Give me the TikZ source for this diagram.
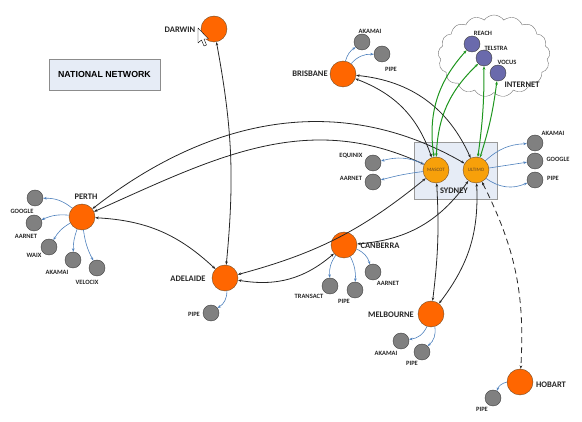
\documentclass[tikz,border=0pt]{standalone}
\usepackage{fontspec}
\setmainfont{Carlito}
\newfontfamily\titlefont{Liberation Sans}
\usetikzlibrary{arrows.meta, shapes.symbols}

\definecolor{hubor}{RGB}{255,102,0}
\definecolor{sydor}{RGB}{247,160,10}
\definecolor{peergrey}{RGB}{128,128,128}
\definecolor{inet}{RGB}{106,106,172}
\definecolor{feedblue}{RGB}{79,129,189}
\definecolor{upgreen}{RGB}{30,150,30}
\definecolor{boxfill}{RGB}{230,236,246}

\begin{document}
\begin{tikzpicture}[x=1pt, y=-1pt,
  hub/.style={circle, draw=brown!60!black, fill=hubor, minimum size=26pt, inner sep=0pt},
  pop/.style={circle, draw=brown!60!black, fill=sydor, minimum size=26pt, inner sep=0pt,
    font=\fontsize{5}{5}\selectfont, text=brown!55!black},
  peer/.style={circle, draw=black!75, fill=peergrey, minimum size=16pt, inner sep=0pt},
  transit/.style={circle, draw=black!75, fill=inet, minimum size=16pt, inner sep=0pt},
  cityname/.style={font=\fontsize{8.5}{9}\selectfont\bfseries, text=black!85},
  peername/.style={font=\fontsize{6.5}{7}\selectfont\bfseries, text=black!85},
  trunk/.style={{Stealth[length=3.5pt]}-{Stealth[length=3.5pt]}, black!85, line width=0.8pt},
  uplink/.style={{Stealth[length=3.5pt]}-{Stealth[length=3.5pt]}, upgreen, line width=1pt},
  feed/.style={-{Stealth[length=3.5pt]}, feedblue, line width=0.6pt}
]
  \useasboundingbox (0,0) rectangle (582,422);

  % boxes and cloud
  \node[draw=black!45, fill=boxfill, minimum width=111pt, minimum height=31pt,
    font=\titlefont\fontsize{8.8}{9}\selectfont\bfseries] (title) at (104.5,74.5) {NATIONAL NETWORK};
  \node[draw=black!40, fill=boxfill, minimum width=83pt, minimum height=57pt] (sydbox) at (455.5,170.5) {};
  \node[cloud, cloud puffs=17, cloud puff arc=110, aspect=1.4, draw=black!55, fill=white,
    minimum width=112pt, minimum height=82pt] (cloud) at (494,56) {};
  \node[cityname] (internet) at (522,85) {INTERNET};
  \node[cityname] (sydney) at (454,191) {SYDNEY};

  % hubs
  \node[hub] (darwin) at (214,29) {};
  \node[hub] (brisbane) at (343,74) {};
  \node[hub] (perth) at (82,217) {};
  \node[hub] (adelaide) at (225,278) {};
  \node[hub] (canberra) at (344,245) {};
  \node[hub] (melbourne) at (431,314) {};
  \node[hub] (hobart) at (520,382) {};
  \node[pop] (mascot) at (436,170) {MASCOT};
  \node[pop] (ultimo) at (476,170) {ULTIMO};

  \node[cityname] (darwinname) at (180,30) {DARWIN};
  \node[cityname] (brisbanename) at (310,74) {BRISBANE};
  \node[cityname] (perthname) at (86,197) {PERTH};
  \node[cityname] (adelaidename) at (188,279) {ADELAIDE};
  \node[cityname] (canberraname) at (380,246) {CANBERRA};
  \node[cityname] (melbournename) at (391,315) {MELBOURNE};
  \node[cityname] (hobartname) at (551,385) {HOBART};

  % transit
  \node[transit] (reach) at (472,44) {};
  \node[transit] (telstra) at (484,58) {};
  \node[transit] (vocus) at (498,73) {};
  \node[peername] at (483,33) {REACH};
  \node[peername] at (496,48) {TELSTRA};
  \node[peername] at (507,62) {VOCUS};

  % peers
  \node[peer] (bneakamai) at (362,42) {};
  \node[peer] (bnepipe) at (382,54) {};
  \node[peer] (sydequinix) at (373,163) {};
  \node[peer] (sydaarnet) at (373,182) {};
  \node[peer] (sydakamai) at (535,143) {};
  \node[peer] (sydgoogle) at (535,161) {};
  \node[peer] (sydpipe) at (535,180) {};
  \node[peer] (pergoogle) at (35,198) {};
  \node[peer] (peraarnet) at (34,223) {};
  \node[peer] (perwaix) at (49,247) {};
  \node[peer] (perakamai) at (73,260) {};
  \node[peer] (pervelocix) at (97,268) {};
  \node[peer] (adlpipe) at (211,313) {};
  \node[peer] (cbrtransact) at (330,286) {};
  \node[peer] (cbrpipe) at (355,290) {};
  \node[peer] (cbraarnet) at (373,272) {};
  \node[peer] (melakamai) at (401,341) {};
  \node[peer] (melpipe) at (422,352) {};
  \node[peer] (hbapipe) at (493,398) {};

  \node[peername] at (370,31) {AKAMAI};
  \node[peername] at (391,69) {PIPE};
  \node[peername] at (351,156) {EQUINIX};
  \node[peername] at (351,178) {AARNET};
  \node[peername] at (553,133) {AKAMAI};
  \node[peername] at (558,159) {GOOGLE};
  \node[peername] at (553,178) {PIPE};
  \node[peername] at (22,211) {GOOGLE};
  \node[peername] at (26,236) {AARNET};
  \node[peername] at (34,255) {WAIX};
  \node[peername] at (57,272) {AKAMAI};
  \node[peername] at (87,282) {VELOCIX};
  \node[peername] at (194,314) {PIPE};
  \node[peername] at (309,296) {TRANSACT};
  \node[peername] at (344,301) {PIPE};
  \node[peername] at (388,283) {AARNET};
  \node[peername] at (386,353) {AKAMAI};
  \node[peername] at (412,363) {PIPE};
  \node[peername] at (482,409) {PIPE};

  % backbone
  \draw[trunk] (darwin) to[bend left=8] (adelaide);
  \draw[trunk] (perth) to[out=38, in=150] (ultimo);
  \draw[trunk] (perth) to[out=24, in=155] (mascot);
  \draw[trunk] (perth) to[bend left=20] (adelaide);
  \draw[trunk] (brisbane) to[bend left=25] (mascot);
  \draw[trunk] (brisbane) to[bend left=30] (ultimo);
  \draw[trunk] (adelaide) to[bend right=12] (mascot);
  \draw[trunk] (adelaide) to[bend right=25] (canberra);
  \draw[trunk] (canberra) to[bend right=25] (ultimo);
  \draw[trunk] (mascot) to[bend left=5] (melbourne);
  \draw[trunk] (ultimo) to[bend left=20] (melbourne);
  \draw[trunk, dash pattern=on 6pt off 4pt] (ultimo) to[bend left=15] (hobart);

  % upstream
  \draw[uplink] (mascot) to[bend left=25] (reach);
  \draw[uplink] (mascot) to[bend left=22] (telstra);
  \draw[uplink] (ultimo) to[bend right=4] (telstra);
  \draw[uplink] (ultimo) to[bend right=5] (vocus);

  % peering
  \draw[feed] (brisbane) to[bend left=20] (bneakamai);
  \draw[feed] (brisbane) to[bend left=25] (bnepipe);
  \draw[feed] (mascot) to[bend right=20] (sydequinix);
  \draw[feed] (mascot) to[bend right=4] (sydaarnet);
  \draw[feed] (ultimo) to[bend left=20] (sydakamai);
  \draw[feed] (ultimo) to (sydgoogle);
  \draw[feed] (ultimo) to[bend right=30] (sydpipe);
  \draw[feed] (perth) to[bend right=20] (pergoogle);
  \draw[feed] (perth) to[bend right=15] (peraarnet);
  \draw[feed] (perth) to[bend right=15] (perwaix);
  \draw[feed] (perth) to[bend right=10] (perakamai);
  \draw[feed] (perth) to[bend right=10] (pervelocix);
  \draw[feed] (adelaide) to[bend left=30] (adlpipe);
  \draw[feed] (canberra) to[bend right=20] (cbrtransact);
  \draw[feed] (canberra) to[bend left=15] (cbrpipe);
  \draw[feed] (canberra) to[bend left=25] (cbraarnet);
  \draw[feed] (melbourne) to[bend left=30] (melakamai);
  \draw[feed] (melbourne) to[bend left=30] (melpipe);
  \draw[feed] (hobart) to[bend right=30] (hbapipe);

  % pointer
  \draw[fill=white, line join=round] (198,28) -- (198,43) -- (201.5,40) -- (204,46) -- (206.5,45)
    -- (204,39) -- (208.5,39) -- cycle;
\end{tikzpicture}
\end{document}
